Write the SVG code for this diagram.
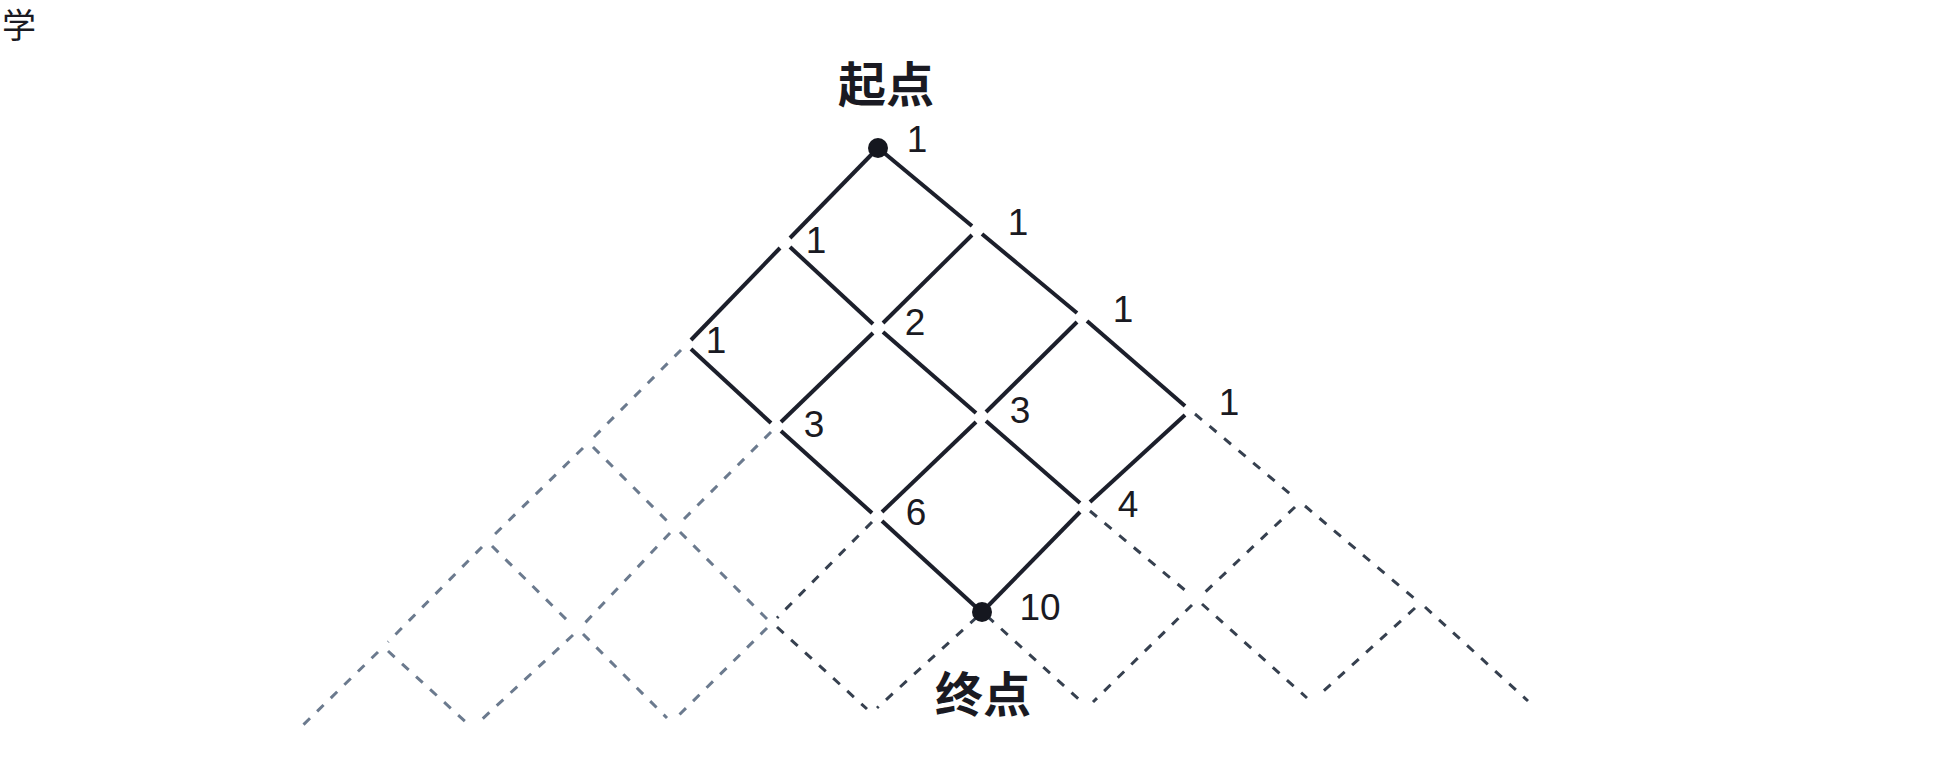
<svg xmlns="http://www.w3.org/2000/svg" width="1941" height="764" viewBox="0 0 1941 764">
<style>
.solid{stroke:#1c1f2b;stroke-width:4;fill:none;stroke-linecap:butt}
.dash{stroke:#36404f;stroke-width:3;fill:none;stroke-dasharray:9 10}
.light{stroke:#6b7a8e}
.num{font-family:"Liberation Sans",Arial,sans-serif;font-size:37px;fill:#1a1a22;text-anchor:middle}
.cjk{font-family:"Noto Sans CJK SC","Noto Sans CJK JP",sans-serif;font-size:48px;font-weight:bold;fill:#1a1a22;text-anchor:middle}
.dot{fill:#15171f}
</style>
<rect width="1941" height="764" fill="#ffffff"/>
<text x="2" y="38" style="font-family:'Noto Sans CJK SC',sans-serif;font-size:34px;fill:#1a1a22">学</text>
<g id="connectors">
  <g id="solid-edges">
    <line class="solid" x1="883" y1="152" x2="972" y2="226"/>
    <line class="solid" x1="982" y1="234" x2="1077" y2="313"/>
    <line class="solid" x1="1087" y1="321" x2="1185" y2="406"/>
    <line class="solid" x1="790" y1="247" x2="873" y2="324"/>
    <line class="solid" x1="883" y1="332" x2="976" y2="413"/>
    <line class="solid" x1="986" y1="421" x2="1080" y2="503"/>
    <line class="solid" x1="691" y1="349" x2="771" y2="423"/>
    <line class="solid" x1="781" y1="431" x2="872" y2="513"/>
    <line class="solid" x1="882" y1="521" x2="977" y2="608"/>
    <line class="solid" x1="873" y1="153" x2="790" y2="238"/>
    <line class="solid" x1="780" y1="248" x2="691" y2="340"/>
    <line class="solid" x1="972" y1="235" x2="883" y2="323"/>
    <line class="solid" x1="873" y1="333" x2="781" y2="422"/>
    <line class="solid" x1="1077" y1="322" x2="986" y2="412"/>
    <line class="solid" x1="976" y1="422" x2="882" y2="512"/>
    <line class="solid" x1="1185" y1="415" x2="1090" y2="502"/>
    <line class="solid" x1="1080" y1="512" x2="987" y2="607"/>
  </g>
  <g id="dashed-edges">
    <line class="dash" x1="1195" y1="414" x2="1295" y2="498"/>
    <line class="dash" x1="1305" y1="506" x2="1415" y2="599"/>
    <line class="dash" x1="1425" y1="607" x2="1528" y2="701"/>
    <line class="dash" x1="1090" y1="511" x2="1192" y2="596"/>
    <line class="dash" x1="1202" y1="604" x2="1307" y2="698"/>
    <line class="dash" x1="987" y1="616" x2="1083" y2="703"/>
    <line class="dash light" x1="593" y1="447" x2="670" y2="524"/>
    <line class="dash light" x1="680" y1="532" x2="767" y2="619"/>
    <line class="dash" x1="777" y1="627" x2="867" y2="709"/>
    <line class="dash light" x1="492" y1="546" x2="573" y2="626"/>
    <line class="dash light" x1="583" y1="634" x2="667" y2="718"/>
    <line class="dash light" x1="388" y1="651" x2="468" y2="724"/>
    <line class="dash light" x1="681" y1="350" x2="593" y2="438"/>
    <line class="dash light" x1="583" y1="448" x2="492" y2="537"/>
    <line class="dash light" x1="482" y1="547" x2="388" y2="642"/>
    <line class="dash light" x1="378" y1="652" x2="300" y2="728"/>
    <line class="dash light" x1="771" y1="432" x2="680" y2="523"/>
    <line class="dash light" x1="670" y1="533" x2="583" y2="625"/>
    <line class="dash light" x1="573" y1="635" x2="478" y2="723"/>
    <line class="dash" x1="872" y1="522" x2="777" y2="618"/>
    <line class="dash light" x1="767" y1="628" x2="677" y2="717"/>
    <line class="dash" x1="977" y1="617" x2="877" y2="708"/>
    <line class="dash" x1="1295" y1="507" x2="1202" y2="595"/>
    <line class="dash" x1="1192" y1="605" x2="1093" y2="702"/>
    <line class="dash" x1="1415" y1="608" x2="1317" y2="697"/>
  </g>
</g>
<g id="start">
  <text class="cjk" x="886" y="102">起点</text>
  <circle class="dot" cx="878" cy="148" r="10"/>
  <text class="num" x="917" y="152">1</text>
</g>
<g id="n10"><text class="num" x="1018" y="235">1</text></g>
<g id="n01"><text class="num" x="816" y="253">1</text></g>
<g id="n20"><text class="num" x="1123" y="322">1</text></g>
<g id="n11"><text class="num" x="915" y="335">2</text></g>
<g id="n02"><text class="num" x="716" y="353">1</text></g>
<g id="n12"><text class="num" x="814" y="437">3</text></g>
<g id="n21"><text class="num" x="1020" y="423">3</text></g>
<g id="n30"><text class="num" x="1229" y="415">1</text></g>
<g id="n22"><text class="num" x="916" y="525">6</text></g>
<g id="n31"><text class="num" x="1128" y="517">4</text></g>
<g id="end">
  <circle class="dot" cx="982" cy="612" r="10"/>
  <text class="num" x="1040" y="620">10</text>
  <text class="cjk" x="983" y="712">终点</text>
</g>
</svg>
